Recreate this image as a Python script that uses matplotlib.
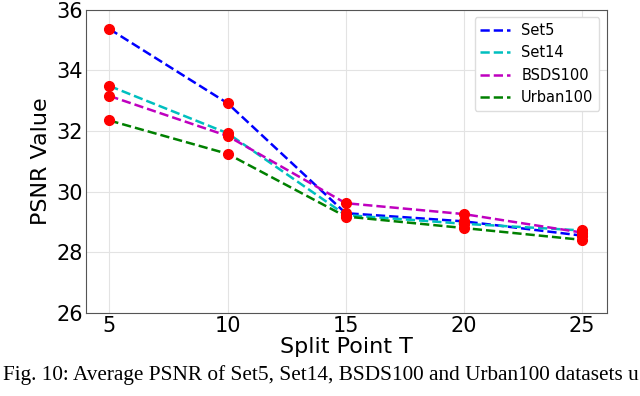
import matplotlib.pyplot as plt

# split points and PSNR per dataset
split_points = [5, 10, 15, 20, 25]
set5 = [35.37, 32.92, 29.29, 29.02, 28.55]
set14 = [33.49, 31.93, 29.23, 28.94, 28.72]
bsds100 = [33.16, 31.84, 29.62, 29.26, 28.65]
urban100 = [32.35, 31.25, 29.18, 28.80, 28.41]

series = [('Set5', set5, 'b'), ('Set14', set14, 'c'),
          ('BSDS100', bsds100, 'm'), ('Urban100', urban100, 'g')]

fig = plt.figure(figsize=(6.4, 3.96), dpi=100)
ax = fig.add_axes([0.134, 0.21, 0.814, 0.765])

# --- lines first, then red dots on top ---
for name, vals, col in series:
    ax.plot(split_points, vals, linestyle='--', color=col, linewidth=1.8,
            label=name, zorder=2)
for name, vals, col in series:
    ax.plot(split_points, vals, 'o', color='red', markersize=7, zorder=3)

ax.set_xlim(4, 26.05)
ax.set_ylim(26, 36)
ax.set_xticks(split_points)
ax.set_yticks([26, 28, 30, 32, 34, 36])
ax.tick_params(labelsize=15, length=0, pad=2)
ax.grid(True, color='#e3e3e3', linewidth=0.8)
for sp in ax.spines.values():
    sp.set_color('#555555')

ax.set_xlabel('Split Point T', fontsize=16, labelpad=1)
ax.set_ylabel('PSNR Value', fontsize=16, labelpad=4)
ax.legend(loc='upper right', fontsize=10.5, handlelength=2, framealpha=1,
          edgecolor='#dddddd')

# caption (the page crop ends mid-word in the original)
fig.text(0.004, 0.053, 'Fig. 10: Average PSNR of Set5, Set14, BSDS100 and Urban100 datasets u',
         fontsize=15.3, family='Liberation Serif', ha='left', va='center')

fig.savefig('out.png', dpi=100)
